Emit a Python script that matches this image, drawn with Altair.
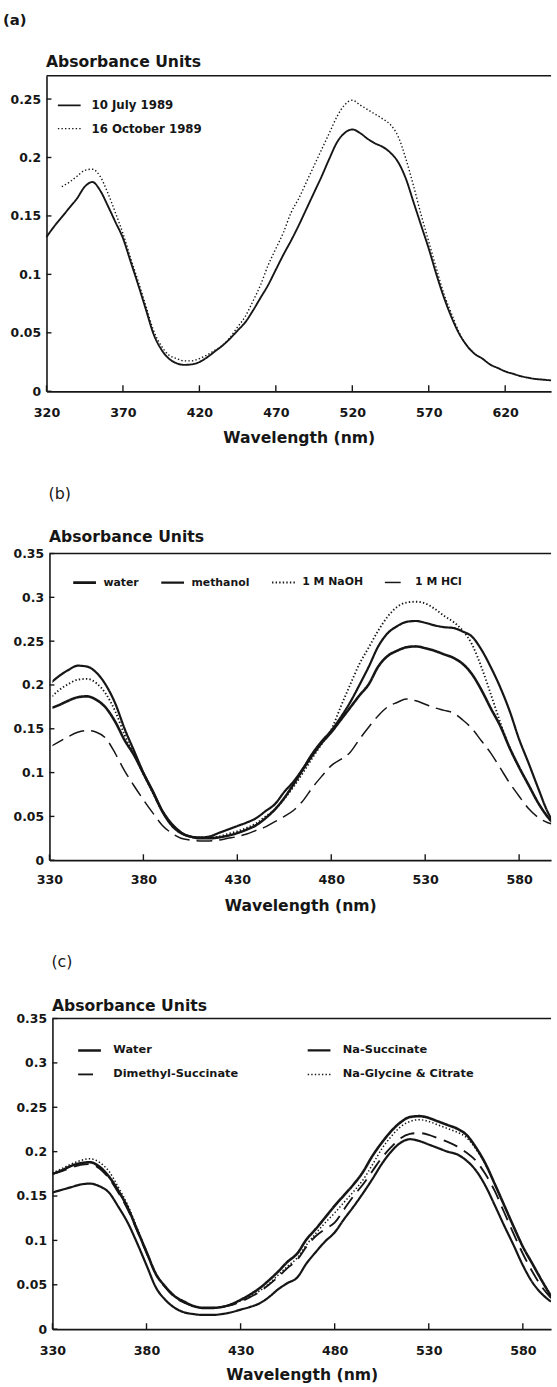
import altair as alt
import pandas as pd

FONT = "DejaVu Sans"
INK = "#161616"

# ---------------- panel (a) ----------------
A_WL = [320, 325, 330, 335, 340, 345, 350, 355, 360, 365, 370, 375, 380, 385, 390, 395,
        400, 405, 410, 415, 420, 425, 430, 435, 440, 445, 450, 455, 460, 465, 470, 475,
        480, 485, 490, 495, 500, 505, 510, 515, 520, 525, 530, 535, 540, 545, 550, 555,
        560, 565, 570, 575, 580, 585, 590, 595, 600, 605, 610, 615, 620, 625, 630, 635,
        640, 645, 650]
A_JULY = [0.132, 0.141, 0.149, 0.157, 0.165, 0.175, 0.179, 0.172, 0.159, 0.145, 0.131, 0.111,
          0.091, 0.070, 0.049, 0.036, 0.028, 0.024, 0.0226, 0.023, 0.025, 0.029, 0.034, 0.039,
          0.045, 0.052, 0.059, 0.069, 0.080, 0.091, 0.104, 0.117, 0.129, 0.142, 0.156, 0.170,
          0.184, 0.199, 0.213, 0.221, 0.224, 0.221, 0.216, 0.212, 0.209, 0.204, 0.196, 0.182,
          0.162, 0.142, 0.122, 0.100, 0.080, 0.063, 0.049, 0.039, 0.032, 0.028, 0.023, 0.020,
          0.017, 0.015, 0.013, 0.0116, 0.0105, 0.0099, 0.0093]
A_OCT_WL = [330, 335, 340, 345, 350, 355, 360, 365, 370, 375, 380, 385, 390, 395, 400, 405,
            410, 415, 420, 425, 430, 435, 440, 445, 450, 455, 460, 465, 470, 475, 480, 485,
            490, 495, 500, 505, 510, 515, 520, 525, 530, 535, 540, 545, 550, 555, 560, 565,
            570, 575, 580, 585, 590, 595, 600]
A_OCT = [0.175, 0.179, 0.184, 0.189, 0.190, 0.184, 0.170, 0.153, 0.135, 0.114, 0.094, 0.073,
         0.052, 0.039, 0.031, 0.028, 0.026, 0.026, 0.028, 0.031, 0.035, 0.039, 0.046, 0.055,
         0.064, 0.077, 0.091, 0.108, 0.122, 0.136, 0.153, 0.165, 0.179, 0.193, 0.207, 0.221,
         0.235, 0.245, 0.249, 0.245, 0.241, 0.237, 0.233, 0.228, 0.218, 0.199, 0.176, 0.151,
         0.128, 0.105, 0.083, 0.066, 0.050, 0.039, 0.032]
A_SERIES = ["10 July 1989", "16 October 1989"]
A_XTICKS = [320, 370, 420, 470, 520, 570, 620]
A_YTICKS = [0, 0.05, 0.1, 0.15, 0.2, 0.25]

# ---------------- panel (b) ----------------
B_WL = [330, 335, 340, 345, 350, 355, 360, 365, 370, 375, 380, 385, 390, 395, 400, 405,
        410, 415, 420, 425, 430, 435, 440, 445, 450, 455, 460, 465, 470, 475, 480, 485,
        490, 495, 500, 505, 510, 515, 520, 525, 530, 535, 540, 545, 550, 555, 560, 565,
        570, 575, 580, 585, 590, 595, 600]
B_WATER = [0.173, 0.177, 0.182, 0.186, 0.187, 0.183, 0.174, 0.158, 0.137, 0.120, 0.099, 0.078,
           0.056, 0.040, 0.031, 0.027, 0.025, 0.025, 0.026, 0.028, 0.031, 0.035, 0.040, 0.048,
           0.058, 0.071, 0.087, 0.104, 0.120, 0.134, 0.146, 0.160, 0.174, 0.188, 0.201, 0.221,
           0.233, 0.239, 0.243, 0.244, 0.242, 0.239, 0.235, 0.231, 0.224, 0.212, 0.194, 0.173,
           0.153, 0.128, 0.106, 0.086, 0.066, 0.050, 0.038]
B_METHANOL = [0.201, 0.210, 0.217, 0.222, 0.221, 0.214, 0.200, 0.179, 0.150, 0.125, 0.100, 0.079,
              0.057, 0.042, 0.032, 0.027, 0.026, 0.027, 0.031, 0.035, 0.039, 0.043, 0.048, 0.056,
              0.064, 0.078, 0.090, 0.105, 0.122, 0.136, 0.148, 0.163, 0.180, 0.200, 0.221, 0.244,
              0.259, 0.267, 0.272, 0.273, 0.271, 0.268, 0.266, 0.265, 0.261, 0.255, 0.240, 0.220,
              0.197, 0.170, 0.138, 0.111, 0.083, 0.056, 0.038]
B_NAOH = [0.184, 0.194, 0.201, 0.206, 0.207, 0.202, 0.190, 0.170, 0.143, 0.121, 0.098, 0.077,
          0.056, 0.040, 0.031, 0.027, 0.026, 0.026, 0.027, 0.030, 0.033, 0.037, 0.042, 0.050,
          0.058, 0.070, 0.084, 0.100, 0.117, 0.133, 0.149, 0.175, 0.200, 0.224, 0.243, 0.262,
          0.278, 0.289, 0.294, 0.295, 0.293, 0.287, 0.279, 0.272, 0.262, 0.246, 0.220, 0.189,
          0.157, 0.128, 0.106, 0.086, 0.066, 0.050, 0.038]
B_HCL = [0.129, 0.135, 0.141, 0.146, 0.148, 0.146, 0.139, 0.122, 0.102, 0.085, 0.069, 0.054,
         0.040, 0.031, 0.025, 0.023, 0.022, 0.022, 0.023, 0.025, 0.027, 0.030, 0.034, 0.038,
         0.044, 0.050, 0.057, 0.068, 0.083, 0.096, 0.108, 0.115, 0.123, 0.138, 0.152, 0.165,
         0.175, 0.180, 0.184, 0.182, 0.178, 0.174, 0.171, 0.168, 0.160, 0.150, 0.136, 0.122,
         0.105, 0.088, 0.073, 0.059, 0.049, 0.043, 0.040]
B_SERIES = ["water", "methanol", "1 M NaOH", "1 M HCl"]
BC_XTICKS = [330, 380, 430, 480, 530, 580]
BC_YTICKS = [0, 0.05, 0.1, 0.15, 0.2, 0.25, 0.3, 0.35]

# ---------------- panel (c) ----------------
C_WL = [330, 335, 340, 345, 350, 355, 360, 365, 370, 375, 380, 385, 390, 395, 400, 405,
        410, 415, 420, 425, 430, 435, 440, 445, 450, 455, 460, 465, 470, 475, 480, 485,
        490, 495, 500, 505, 510, 515, 520, 525, 530, 535, 540, 545, 550, 555, 560, 565,
        570, 575, 580, 585, 590, 595]
C_WATER = [0.175, 0.179, 0.184, 0.187, 0.188, 0.183, 0.172, 0.156, 0.137, 0.112, 0.087, 0.062,
           0.048, 0.037, 0.031, 0.026, 0.024, 0.024, 0.025, 0.028, 0.033, 0.039, 0.046, 0.055,
           0.065, 0.076, 0.085, 0.101, 0.113, 0.126, 0.139, 0.151, 0.163, 0.177, 0.195, 0.210,
           0.223, 0.233, 0.239, 0.240, 0.238, 0.234, 0.230, 0.226, 0.219, 0.205, 0.187, 0.164,
           0.140, 0.116, 0.093, 0.074, 0.055, 0.037]
C_NASUCC = [0.154, 0.157, 0.160, 0.163, 0.164, 0.161, 0.154, 0.138, 0.120, 0.097, 0.072, 0.047,
            0.033, 0.024, 0.019, 0.017, 0.016, 0.016, 0.017, 0.019, 0.022, 0.025, 0.029, 0.036,
            0.045, 0.052, 0.058, 0.074, 0.087, 0.099, 0.109, 0.124, 0.138, 0.153, 0.169, 0.186,
            0.200, 0.210, 0.214, 0.212, 0.208, 0.204, 0.200, 0.197, 0.190, 0.179, 0.162, 0.140,
            0.117, 0.095, 0.072, 0.053, 0.040, 0.031]
C_DIMETHYL = [0.175, 0.178, 0.182, 0.185, 0.186, 0.181, 0.170, 0.154, 0.135, 0.111, 0.086, 0.062,
              0.047, 0.036, 0.030, 0.026, 0.024, 0.024, 0.025, 0.027, 0.031, 0.036, 0.042, 0.050,
              0.059, 0.069, 0.078, 0.093, 0.105, 0.113, 0.120, 0.135, 0.150, 0.163, 0.178, 0.193,
              0.205, 0.215, 0.220, 0.221, 0.219, 0.215, 0.211, 0.206, 0.199, 0.190, 0.175, 0.156,
              0.132, 0.108, 0.085, 0.065, 0.048, 0.035]
C_NAGLY = [0.176, 0.181, 0.186, 0.190, 0.192, 0.188, 0.178, 0.160, 0.140, 0.114, 0.088, 0.063,
           0.048, 0.037, 0.030, 0.026, 0.024, 0.024, 0.025, 0.028, 0.032, 0.037, 0.043, 0.051,
           0.061, 0.071, 0.080, 0.095, 0.108, 0.120, 0.131, 0.143, 0.155, 0.168, 0.185, 0.203,
           0.217, 0.228, 0.234, 0.236, 0.234, 0.230, 0.226, 0.222, 0.216, 0.203, 0.186, 0.164,
           0.140, 0.116, 0.093, 0.074, 0.055, 0.037]
C_SERIES = ["Water", "Na-Succinate", "Dimethyl-Succinate", "Na-Glycine & Citrate"]

SOLID = [1, 0]
DOT = [1.4, 2.2]
DASH_B = [16, 7]
DASH_C = [15, 8]

W = 504  # plot width, shared by the three panels


def long_df(pairs):
    rows = []
    for name, wl, vals in pairs:
        assert len(wl) == len(vals), name
        for w, v in zip(wl, vals):
            rows.append({"wl": w, "v": v, "s": name})
    return pd.DataFrame(rows)


def panel(df, order, dashes, widths, xdom, ydom, xticks, yticks, h, shift, extent,
          legend_kw, title, au_y, lab_pad, tit_pad, clip):
    xaxis = alt.Axis(values=xticks, format="d", title="Wavelength (nm)", grid=False,
                     tickSize=0, labelPadding=lab_pad, titlePadding=tit_pad,
                     labelFlush=False, labelFont=FONT, labelFontSize=12.8,
                     labelFontWeight="bold", labelColor=INK, titleFont=FONT,
                     titleFontSize=15.8, titleFontWeight="bold", titleColor=INK,
                     domainColor=INK, domainWidth=1.8)
    yaxis = alt.Axis(values=yticks, format="~g", title="Absorbance Units", grid=False,
                     tickSize=0, labelPadding=6, offset=shift,
                     labelFont=FONT, labelFontSize=12.5, labelFontWeight="bold",
                     labelColor=INK, titleFont=FONT, titleFontSize=15.8,
                     titleFontWeight="bold", titleColor=INK, titleAngle=0,
                     titleAlign="left", titleBaseline="alphabetic", titleX=-1,
                     titleY=au_y, domainColor=INK, domainWidth=1.6,
                     minExtent=extent, maxExtent=extent)
    x = alt.X("wl:Q", scale=alt.Scale(domain=xdom, range=[-shift, W], nice=False,
                                      zero=False), axis=xaxis)
    y = alt.Y("v:Q", scale=alt.Scale(domain=ydom, nice=False, zero=False), axis=yaxis)

    leg_opts = dict(orient="none", title=None, symbolType="stroke", symbolSize=529,
                    symbolStrokeColor=INK, labelFont=FONT, labelFontSize=11,
                    labelFontWeight="bold", labelColor=INK, padding=0)
    leg_opts.update(legend_kw)
    leg = alt.Legend(**leg_opts)
    lines = alt.Chart(df).mark_line(clip=clip, color=INK, strokeCap="butt",
                                    interpolate="monotone").encode(
        x=x, y=y,
        strokeDash=alt.StrokeDash("s:N", scale=alt.Scale(domain=order, range=dashes),
                                  legend=leg),
        strokeWidth=alt.StrokeWidth("s:N", scale=alt.Scale(domain=order, range=widths),
                                    legend=leg),
        order=alt.Order("wl:Q"),
    )
    xticks_in = alt.Chart(pd.DataFrame({"wl": xticks})).mark_rule(
        color=INK, strokeWidth=1.4).encode(
        x=x, y=alt.value(h - 6), y2=alt.value(h))
    yticks_in = alt.Chart(pd.DataFrame({"v": yticks})).mark_rule(
        color=INK, strokeWidth=1.4).encode(
        y=y, x=alt.value(-shift), x2=alt.value(-shift + 5))
    top = alt.Chart(pd.DataFrame({"wl": [xdom[0]]})).mark_rule(
        color=INK, strokeWidth=1.6).encode(
        x=alt.value(-shift), x2=alt.value(W), y=alt.value(0))
    return alt.layer(lines, xticks_in, yticks_in, top).properties(
        width=W, height=h, title=title)


df_a = long_df([(A_SERIES[0], A_WL, A_JULY), (A_SERIES[1], A_OCT_WL, A_OCT)])
df_b = long_df([(B_SERIES[0], B_WL, B_WATER), (B_SERIES[1], B_WL, B_METHANOL),
                (B_SERIES[2], B_WL, B_NAOH), (B_SERIES[3], B_WL, B_HCL)])
df_c = long_df([(C_SERIES[0], C_WL, C_WATER), (C_SERIES[1], C_WL, C_NASUCC),
                (C_SERIES[2], C_WL, C_DIMETHYL), (C_SERIES[3], C_WL, C_NAGLY)])

pa = panel(df_a, A_SERIES, [SOLID, DOT], [1.9, 1.4], [320, 650], [0, 0.27],
           A_XTICKS, A_YTICKS, 319, 6, 47,
           dict(legendX=4.5, legendY=17.5, direction="vertical", rowPadding=4.5,
                labelOffset=10, labelFontSize=11.9),
           alt.Title("(a)", anchor="start", frame="bounds", dx=3, font=FONT,
                     fontSize=15, fontWeight="bold", color=INK, offset=26),
           -9, 15, 12, False)
pb = panel(df_b, B_SERIES, [SOLID, SOLID, DOT, DASH_B], [2.6, 1.5, 1.3, 1.6],
           [330, 597], [0, 0.35], BC_XTICKS, BC_YTICKS, 310, 3, 50,
           dict(legendX=19.5, legendY=16, direction="horizontal", columns=4,
                columnPadding=18, labelOffset=6),
           alt.Title("(b)", anchor="start", frame="group", dx=-4, font=FONT,
                     fontSize=16, fontWeight="normal", color=INK, offset=27),
           -12, 14, 12, True)
pc = panel(df_c, C_SERIES, [SOLID, SOLID, DASH_C, DOT], [2.6, 1.5, 1.5, 1.3],
           [330, 595], [0, 0.35], BC_XTICKS, BC_YTICKS, 314, 0, 53,
           dict(legendX=24.5, legendY=19, direction="horizontal", columns=2,
                columnPadding=65, rowPadding=6, labelOffset=11, labelFontSize=11.5),
           alt.Title("(c)", anchor="start", frame="group", dx=-1, font=FONT,
                     fontSize=16, fontWeight="normal", color=INK, offset=28),
           -8, 16, 10, True)

chart = alt.concat(pa, pb, pc, columns=1, align="none", spacing=41).resolve_scale(
    x="independent", y="independent", strokeDash="independent",
    strokeWidth="independent").resolve_legend(
    strokeDash="independent", strokeWidth="independent").configure_view(
    stroke=None).properties(
    padding={"left": 0, "top": 6, "right": 0, "bottom": 0}, background="white")

chart.save("out.html", embed_options={"renderer": "svg", "actions": False})
